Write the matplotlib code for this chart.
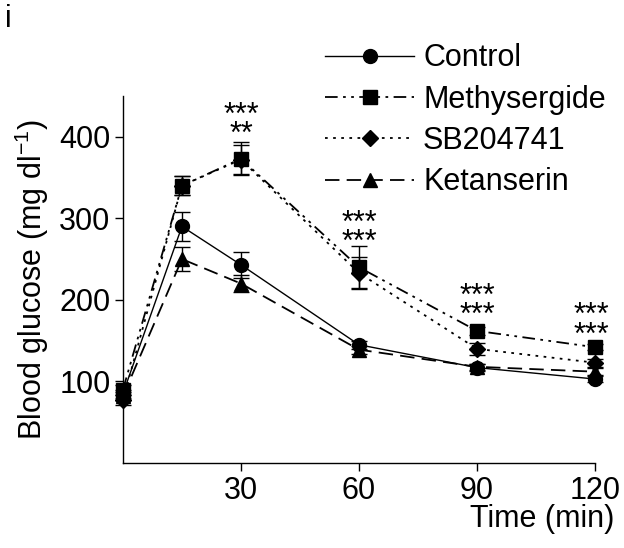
import matplotlib
matplotlib.use("Agg")
import matplotlib.pyplot as plt
from matplotlib.lines import Line2D

plt.rcParams['font.family'] = ['Liberation Sans', 'DejaVu Sans']
plt.rcParams['mathtext.fontset'] = 'custom'
plt.rcParams['mathtext.rm'] = 'Liberation Sans'
plt.rcParams['mathtext.default'] = 'regular'

time = [0, 15, 30, 60, 90, 120]
series = ['Control', 'Methysergide', 'SB204741', 'Ketanserin']
control = [85, 290, 243, 145, 117, 103]
control_err = [5, 18, 16, 5, 4, 4]
methysergide = [90, 340, 373, 240, 162, 142]
methysergide_err = [6, 12, 20, 26, 5, 4]
sb204741 = [77, 340, 372, 233, 140, 123]
sb204741_err = [6, 12, 18, 20, 7, 5]
ketanserin = [82, 250, 220, 139, 118, 112]
ketanserin_err = [5, 15, 10, 5, 4, 4]

sig_times = [30, 60, 90, 120]
sig_labels = ['***\n**', '***\n***', '***\n***', '***\n***']
sig_center_y = [421, 288, 199, 175]

fig = plt.figure(figsize=(6.24, 5.48), dpi=100)
ax = fig.add_axes([0.197, 0.155, 0.7565, 0.67])

styles = [
    dict(ls='-', marker='o', lw=1.0),
    dict(ls=(0, (7, 3, 1.5, 3, 1.5, 3)), marker='s', lw=1.3),
    dict(ls=(0, (1.5, 3)), marker='D', lw=1.3),
    dict(ls=(0, (8, 4)), marker='^', lw=1.3),
]
msizes = [10, 9.5, 8, 10]
data = [control, methysergide, sb204741, ketanserin]
errs = [control_err, methysergide_err, sb204741_err, ketanserin_err]

handles = []
for name, y, e, st, ms in zip(series, data, errs, styles, msizes):
    ax.errorbar(time, y, yerr=e, color='black', ls=st['ls'], lw=st['lw'],
                marker=st['marker'], ms=ms, mfc='black', mec='black',
                ecolor='black', elinewidth=1.0, capsize=6, capthick=1.0,
                clip_on=False, zorder=3)
    handles.append(Line2D([], [], color='black', ls=st['ls'], lw=st['lw'],
                          marker=st['marker'], ms=ms, mfc='black', mec='black',
                          label=name))

ax.set_xlim(0, 120)
ax.set_ylim(0, 450)
ax.set_xticks([30, 60, 90, 120])
ax.set_yticks([100, 200, 300, 400])
ax.tick_params(direction='out', length=6, width=1, labelsize=22, pad=3)
for s in ['top', 'right']:
    ax.spines[s].set_visible(False)
for s in ['left', 'bottom']:
    ax.spines[s].set_linewidth(1.0)

ax.set_ylabel(r'Blood glucose (mg dl$^{\mathrm{-1}}$)', fontsize=22, labelpad=6)
fig.text(0.985, 0.025, 'Time (min)', fontsize=22, ha='right', va='bottom')
fig.text(0.008, 0.965, 'i', fontsize=22, ha='left', va='center')

for t, lab, yc in zip(sig_times, sig_labels, sig_center_y):
    xt = t if t < 120 else 119
    ax.text(xt, yc - 7, lab, fontsize=22, ha='center', va='center',
            multialignment='center', linespacing=0.53)

fig.legend(handles=handles, loc='upper left', bbox_to_anchor=(0.487, 0.96),
           frameon=False, fontsize=22, handlelength=2.9, handletextpad=0.3,
           labelspacing=0.37, borderpad=0.2)

fig.savefig('out.png', dpi=100)
